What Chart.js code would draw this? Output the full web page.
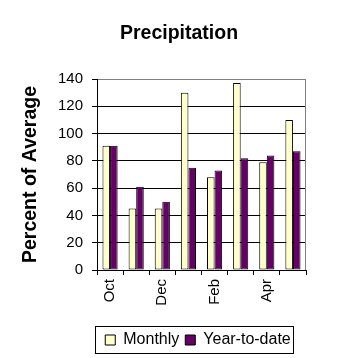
<!DOCTYPE html>
<html>
<head>
<meta charset="utf-8">
<style>
  html, body { margin: 0; padding: 0; background: #ffffff; }
  #wrap { width: 358px; height: 358px; position: relative; }
</style>
<script src="https://cdn.jsdelivr.net/npm/chart.js@4/dist/chart.umd.min.js"></script>
</head>
<body>
<div id="wrap"><canvas id="c" width="358" height="358"></canvas></div>
<script>
const categories = ['Oct', 'Nov', 'Dec', 'Jan', 'Feb', 'Mar', 'Apr', 'May'];
const monthly = [91, 45, 45, 130, 68, 137, 79, 110];
const yearToDate = [91, 61, 50, 75, 73, 82, 84, 87];
const yTicks = [0, 20, 40, 60, 80, 100, 120, 140];

const FONT = "'Liberation Sans', Arial, sans-serif";
const RIGHT_PAD = 52;
const LEGEND_SHIFT = 19 + RIGHT_PAD / 2;
const TITLE_SHIFT = RIGHT_PAD / 2;
const FRAME_GRAY = '#808080';

const legendFrame = {
  id: 'legendFrame',
  afterLayout(chart) {
    const l = chart.legend;
    if (l) { l.left += LEGEND_SHIFT; l.right += LEGEND_SHIFT; }
    const t = chart.titleBlock;
    if (t) { t.left += TITLE_SHIFT; t.right += TITLE_SHIFT; }
  },
  beforeDatasetsDraw(chart) {
    const a = chart.chartArea;
    const ctx = chart.ctx;
    ctx.save();
    ctx.strokeStyle = FRAME_GRAY;
    ctx.lineWidth = 1;
    const x = Math.round(a.right) - 0.5;
    ctx.beginPath();
    ctx.moveTo(x, Math.round(a.top) + 0.5);
    ctx.lineTo(x, Math.round(a.bottom));
    ctx.stroke();
    ctx.restore();
  },
  afterDraw(chart) {
    const l = chart.legend;
    if (!l || !l.lineWidths) return;
    const pad = l.options.labels.padding;
    const lw = l.lineWidths[0];
    const start = (l.left + pad + l.right - lw) / 2;
    const yc = l.top + pad + 16 / 2;
    const ctx = chart.ctx;
    ctx.save();
    ctx.strokeStyle = '#000000';
    ctx.lineWidth = 1;
    const x0 = Math.round(start - 10) + 0.5;
    const x1 = Math.round(start + lw - pad + 2) + 0.5;
    const y0 = Math.round(yc - 14) + 0.5;
    const y1 = Math.round(yc + 13) + 0.5;
    ctx.strokeRect(x0, y0, x1 - x0, y1 - y0);
    ctx.restore();
  }
};

new Chart(document.getElementById('c'), {
  type: 'bar',
  data: {
    labels: categories,
    datasets: [
      {
        label: 'Monthly',
        data: monthly,
        backgroundColor: '#FFFFCC',
        borderColor: '#000000',
        borderWidth: 1,
        borderSkipped: false
      },
      {
        label: 'Year-to-date',
        data: yearToDate,
        backgroundColor: '#660066',
        borderColor: '#000000',
        borderWidth: 1,
        borderSkipped: false
      }
    ]
  },
  options: {
    responsive: false,
    animation: false,
    events: [],
    devicePixelRatio: 1,
    layout: { padding: { left: 0, right: RIGHT_PAD, top: 0, bottom: 0 } },
    datasets: { bar: { categoryPercentage: 0.58, barPercentage: 1.0 } },
    plugins: {
      title: {
        display: true,
        text: 'Precipitation',
        color: '#000000',
        font: { family: FONT, size: 19.5, weight: 'bold' },
        padding: { top: 22.4, bottom: 33.2 }
      },
      legend: {
        display: true,
        position: 'bottom',
        maxHeight: 33,
        labels: {
          color: '#000000',
          font: { family: FONT, size: 16 },
          boxWidth: 10,
          boxHeight: 10,
          padding: 6
        }
      },
      tooltip: { enabled: false }
    },
    scales: {
      x: {
        afterFit(scale) { scale.height = 56; },
        grid: {
          display: true,
          drawOnChartArea: false,
          drawTicks: true,
          tickLength: 5,
          color: '#000000',
          offset: true
        },
        border: { display: true, color: '#000000', width: 1 },
        ticks: {
          autoSkip: false,
          maxRotation: 90,
          minRotation: 90,
          padding: 4,
          color: '#000000',
          font: { family: FONT, size: 15 },
          callback: function (value, index) {
            return index % 2 === 0 ? this.getLabelForValue(value) : '';
          }
        }
      },
      y: {
        min: yTicks[0],
        max: yTicks[yTicks.length - 1],
        afterFit(scale) { scale.width = 97; },
        grid: {
          display: true,
          drawOnChartArea: true,
          drawTicks: true,
          tickLength: 5,
          color: (ctx) => (ctx.tick && ctx.tick.value === yTicks[yTicks.length - 1]) ? FRAME_GRAY : '#000000',
          tickColor: '#000000'
        },
        border: { display: true, color: '#000000', width: 1 },
        ticks: {
          stepSize: 20,
          padding: 9,
          color: '#000000',
          font: { family: FONT, size: 15 }
        },
        title: {
          display: true,
          text: 'Percent of Average',
          color: '#000000',
          font: { family: FONT, size: 19.5, weight: 'bold' },
          padding: { top: 19.3, bottom: 0 }
        }
      }
    }
  },
  plugins: [legendFrame]
});
</script>
</body>
</html>
